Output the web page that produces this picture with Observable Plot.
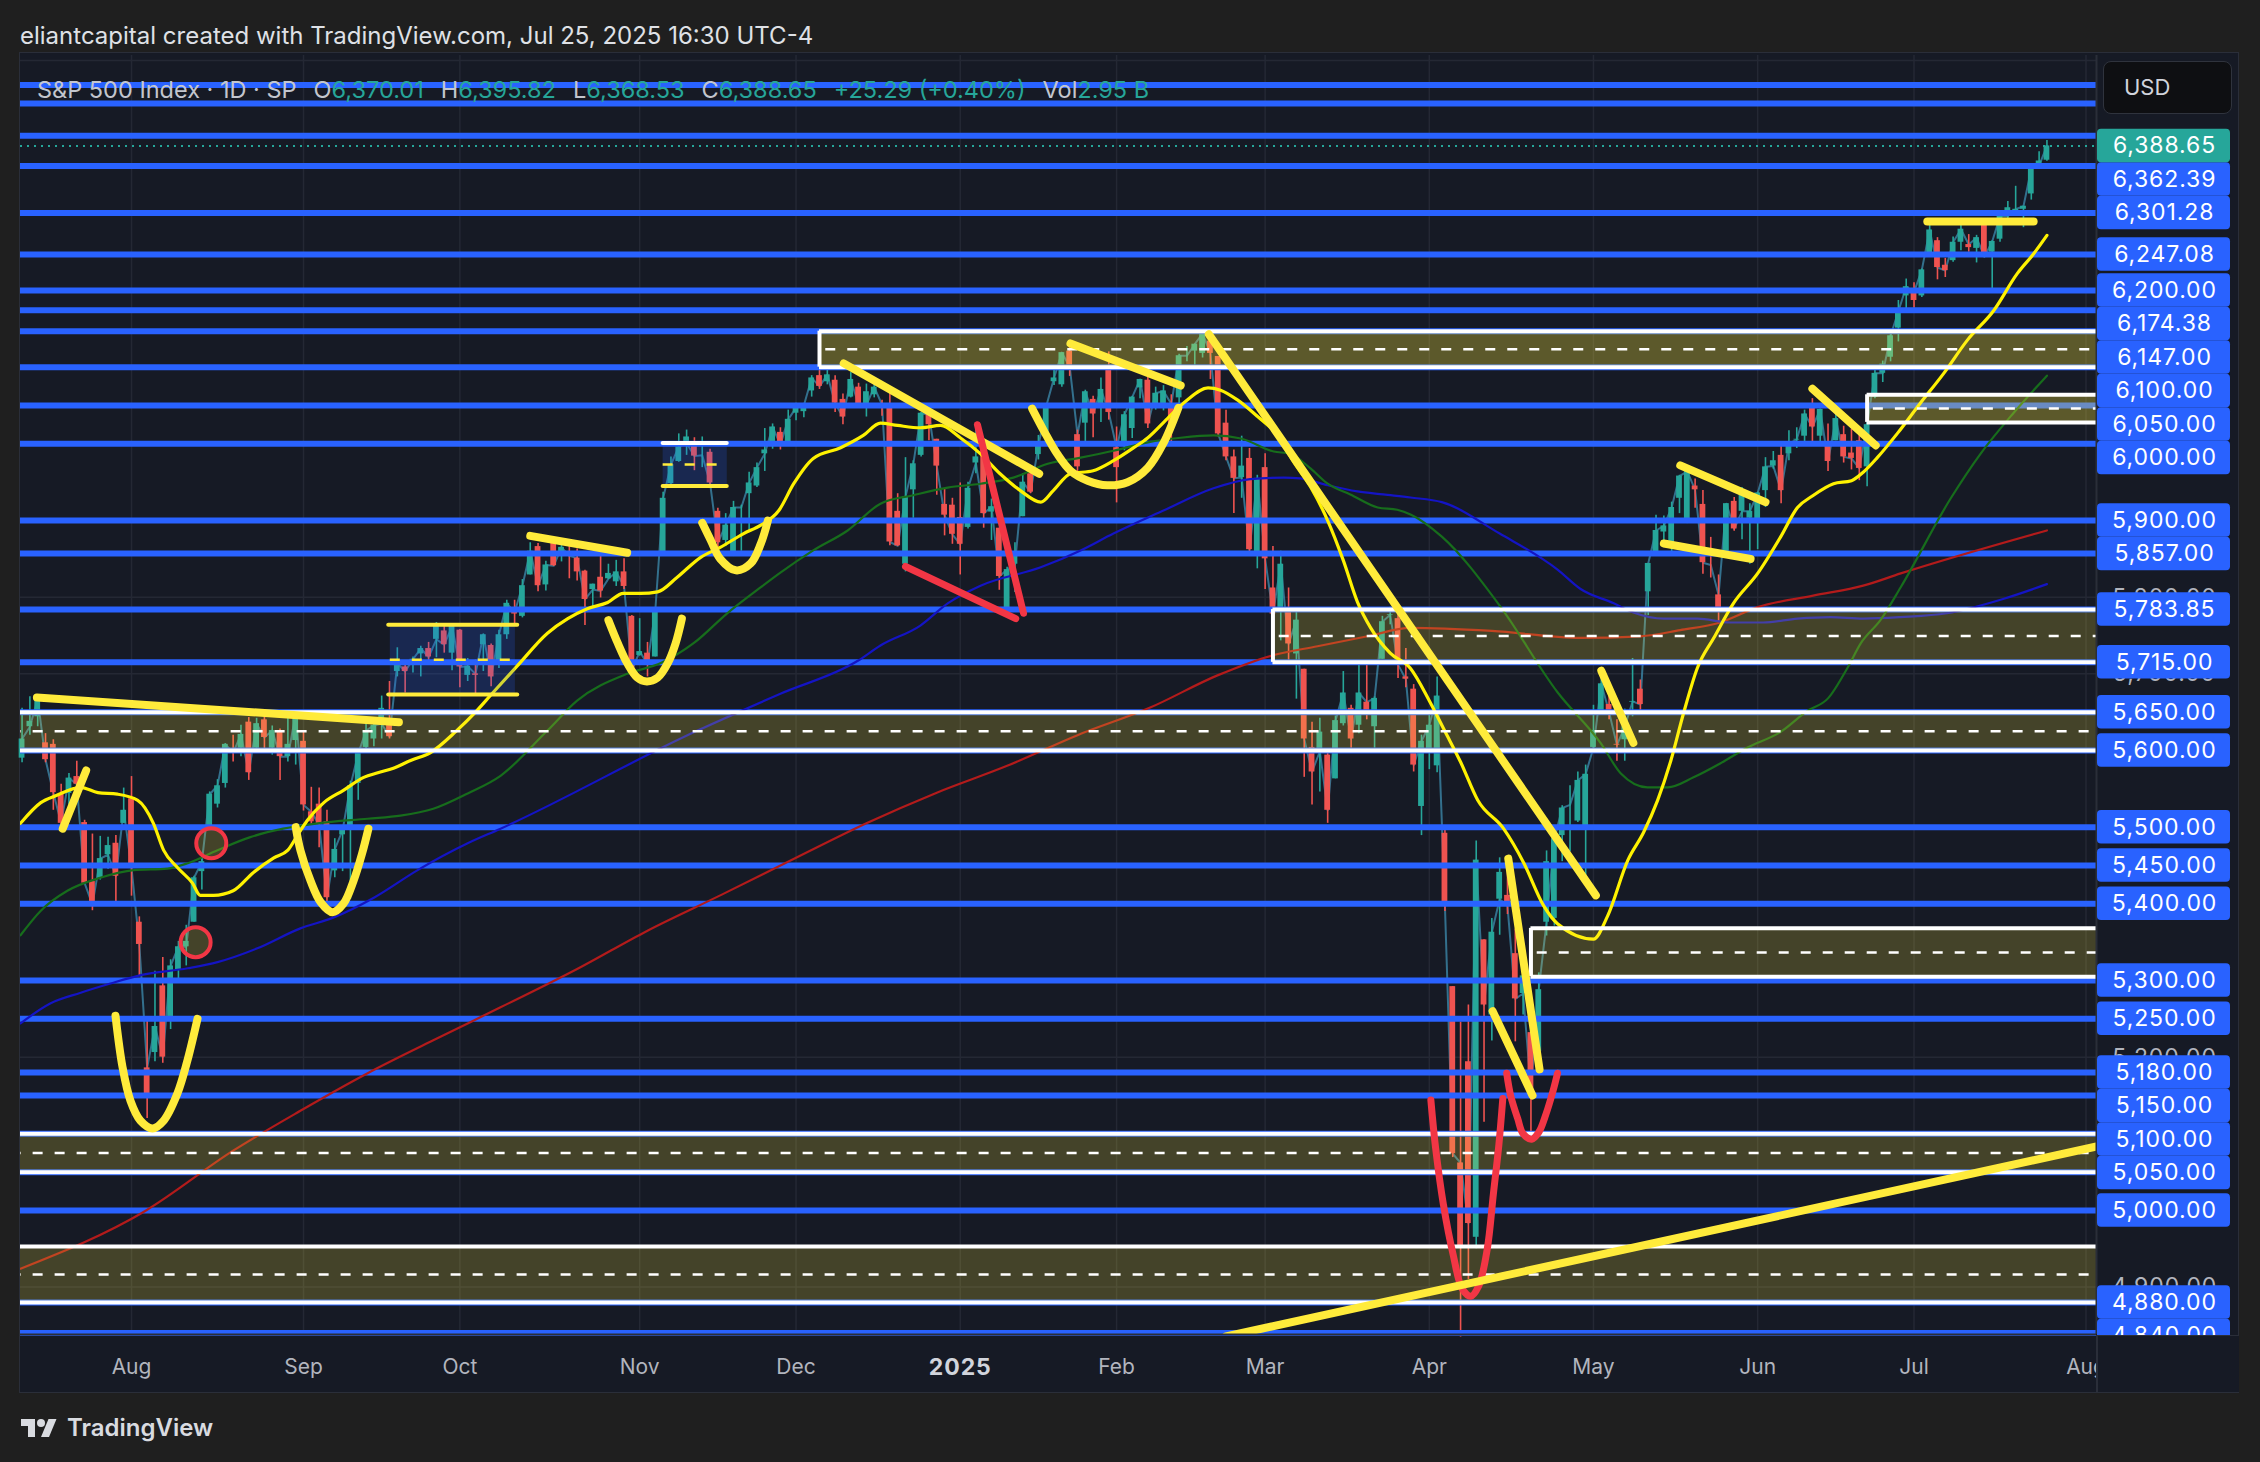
<!DOCTYPE html>
<html><head><meta charset="utf-8">
<script src="https://cdn.jsdelivr.net/npm/d3@7"></script>
<script src="https://cdn.jsdelivr.net/npm/@observablehq/plot@0.6"></script>
<style>
body{margin:0;background:#1f1f1f;width:2260px;height:1462px;overflow:hidden;position:relative;font-family:Inter,"Noto Sans",sans-serif}
#hdr{position:absolute;left:20px;top:24px;font-size:24px;line-height:24px;color:#dfe1e6;white-space:nowrap}
#panel{position:absolute;left:19px;top:52px;width:2218px;height:1339px;border:1px solid #2a2e39;background:#161a25}
#legend{position:absolute;left:37px;top:78px;font-size:23.5px;line-height:24px;white-space:nowrap;color:#c3c6ce}
#legend .v{color:#26a69a}
#legend .s{margin-left:17px}
#usd{position:absolute;left:2103px;top:61px;width:127px;height:51px;background:#0e0f12;border:1px solid #2f333d;border-radius:8px;color:#d1d4dc;font-size:22px;line-height:51px}
#usd span{margin-left:20px}
#corner{position:absolute;left:2096px;top:1335px;width:141px;height:56px;background:#161a25;border-left:2px solid #2a2e39;border-top:1px solid #2a2e39}
#footer{position:absolute;left:20px;top:1411px;height:32px;display:flex;align-items:center;color:#d9dbe0;font-size:24px;font-weight:600}
#footer svg{margin-right:9px}
</style></head><body>
<div id="hdr">eliantcapital created with TradingView.com, Jul 25, 2025 16:30 UTC-4</div>
<div id="panel"></div>
<div id="legend"></div>
<div id="usd"><span>USD</span></div>
<div id="corner"></div>
<div id="footer"><svg width="38" height="24" viewBox="0 0 36 24"><path d="M14 22H7V11H0V4h14v18z" fill="#d9dbe0"/><circle cx="20" cy="8" r="4" fill="#d9dbe0"/><path d="M28 22h-8l7.5-18h8L28 22z" fill="#d9dbe0"/></svg>TradingView</div>
<script>
// ---------------- DATA ----------------
const dates = [
"2024-07-12","2024-07-15","2024-07-16","2024-07-17","2024-07-18","2024-07-19","2024-07-22","2024-07-23","2024-07-24","2024-07-25","2024-07-26","2024-07-29","2024-07-30","2024-07-31",
"2024-08-01","2024-08-02","2024-08-05","2024-08-06","2024-08-07","2024-08-08","2024-08-09","2024-08-12","2024-08-13","2024-08-14","2024-08-15","2024-08-16","2024-08-19","2024-08-20","2024-08-21","2024-08-22","2024-08-23","2024-08-26","2024-08-27","2024-08-28","2024-08-29","2024-08-30",
"2024-09-03","2024-09-04","2024-09-05","2024-09-06","2024-09-09","2024-09-10","2024-09-11","2024-09-12","2024-09-13","2024-09-16","2024-09-17","2024-09-18","2024-09-19","2024-09-20","2024-09-23","2024-09-24","2024-09-25","2024-09-26","2024-09-27","2024-09-30",
"2024-10-01","2024-10-02","2024-10-03","2024-10-04","2024-10-07","2024-10-08","2024-10-09","2024-10-10","2024-10-11","2024-10-14","2024-10-15","2024-10-16","2024-10-17","2024-10-18","2024-10-21","2024-10-22","2024-10-23","2024-10-24","2024-10-25","2024-10-28","2024-10-29","2024-10-30","2024-10-31",
"2024-11-01","2024-11-04","2024-11-05","2024-11-06","2024-11-07","2024-11-08","2024-11-11","2024-11-12","2024-11-13","2024-11-14","2024-11-15","2024-11-18","2024-11-19","2024-11-20","2024-11-21","2024-11-22","2024-11-25","2024-11-26","2024-11-27","2024-11-29",
"2024-12-02","2024-12-03","2024-12-04","2024-12-05","2024-12-06","2024-12-09","2024-12-10","2024-12-11","2024-12-12","2024-12-13","2024-12-16","2024-12-17","2024-12-18","2024-12-19","2024-12-20","2024-12-23","2024-12-24","2024-12-26","2024-12-27","2024-12-30","2024-12-31",
"2025-01-02","2025-01-03","2025-01-06","2025-01-07","2025-01-08","2025-01-10","2025-01-13","2025-01-14","2025-01-15","2025-01-16","2025-01-17","2025-01-21","2025-01-22","2025-01-23","2025-01-24","2025-01-27","2025-01-28","2025-01-29","2025-01-30","2025-01-31",
"2025-02-03","2025-02-04","2025-02-05","2025-02-06","2025-02-07","2025-02-10","2025-02-11","2025-02-12","2025-02-13","2025-02-14","2025-02-18","2025-02-19","2025-02-20","2025-02-21","2025-02-24","2025-02-25","2025-02-26","2025-02-27","2025-02-28",
"2025-03-03","2025-03-04","2025-03-05","2025-03-06","2025-03-07","2025-03-10","2025-03-11","2025-03-12","2025-03-13","2025-03-14","2025-03-17","2025-03-18","2025-03-19","2025-03-20","2025-03-21","2025-03-24","2025-03-25","2025-03-26","2025-03-27","2025-03-28","2025-03-31",
"2025-04-01","2025-04-02","2025-04-03","2025-04-04","2025-04-07","2025-04-08","2025-04-09","2025-04-10","2025-04-11","2025-04-14","2025-04-15","2025-04-16","2025-04-17","2025-04-21","2025-04-22","2025-04-23","2025-04-24","2025-04-25","2025-04-28","2025-04-29","2025-04-30",
"2025-05-01","2025-05-02","2025-05-05","2025-05-06","2025-05-07","2025-05-08","2025-05-09","2025-05-12","2025-05-13","2025-05-14","2025-05-15","2025-05-16","2025-05-19","2025-05-20","2025-05-21","2025-05-22","2025-05-23","2025-05-27","2025-05-28","2025-05-29","2025-05-30",
"2025-06-02","2025-06-03","2025-06-04","2025-06-05","2025-06-06","2025-06-09","2025-06-10","2025-06-11","2025-06-12","2025-06-13","2025-06-16","2025-06-17","2025-06-18","2025-06-20","2025-06-23","2025-06-24","2025-06-25","2025-06-26","2025-06-27","2025-06-30",
"2025-07-01","2025-07-02","2025-07-03","2025-07-07","2025-07-08","2025-07-09","2025-07-10","2025-07-11","2025-07-14","2025-07-15","2025-07-16","2025-07-17","2025-07-18","2025-07-21","2025-07-22","2025-07-23","2025-07-24","2025-07-25"];
const futureDates = ["2025-07-28","2025-07-29","2025-07-30","2025-07-31","2025-08-01"];
const closeBefore = 5584.54;
const open = [
5590,5638,5644,5610,5608,5544,5544,5566,5506,5429,5433,5476,5479,5505,
5537,5376,5151,5206,5293,5253,5314,5351,5376,5442,5501,5530,5557,5602,5603,5637,5603,5640,5603,5625,5608,5613,
5612,5507,5530,5507,5443,5490,5496,5557,5604,5615,5655,5641,5703,5709,5712,5726,5733,5762,5756,5727,
5757,5698,5698,5738,5737,5714,5751,5778,5775,5829,5866,5816,5875,5859,5858,5833,5834,5817,5826,5831,5820,5833,5775,
5724,5727,5722,5857,5948,5977,6009,6003,5985,5989,5912,5874,5857,5917,5935,5945,5992,6001,6015,6003,
6040,6042,6069,6089,6081,6083,6058,6061,6074,6068,6064,6052,6047,5912,5843,5940,5985,6025,6006,5921,5920,
5904,5891,5983,5994,5911,5890,5782,5859,5905,5961,5986,6014,6081,6077,6121,5970,6027,6058,6052,6097,
5969,5998,6020,6073,6083,6047,6050,6026,6060,6115,6121,6118,6134,6114,6027,5983,5971,5981,5856,
5969,5812,5782,5786,5726,5706,5604,5624,5594,5563,5635,5655,5633,5646,5631,5719,5776,5772,5696,5680,5527,
5597,5580,5492,5292,4953,5194,4965,5353,5255,5441,5411,5335,5306,5232,5207,5455,5381,5489,5529,5508,5499,
5626,5646,5660,5608,5614,5663,5680,5807,5854,5885,5869,5929,5902,5945,5921,5842,5781,5855,5925,5939,5903,
5896,5939,5978,5985,5987,6005,6010,6050,6010,5997,6004,6012,5988,6004,5970,6061,6104,6113,6151,6193,
6187,6193,6246,6265,6233,6239,6263,6256,6255,6291,6250,6267,6308,6304,6306,6326,6369,6370.01];
const high = [
5655,5670,5667,5622,5614,5556,5570,5586,5509,5491,5488,5487,5489,5551,
5566,5383,5250,5312,5330,5327,5351,5372,5436,5463,5546,5562,5609,5620,5633,5643,5642,5651,5632,5628,5647,5651,
5624,5552,5551,5522,5485,5497,5560,5600,5636,5637,5671,5690,5734,5716,5722,5736,5741,5767,5764,5765,
5758,5720,5718,5752,5739,5757,5796,5796,5823,5871,5870,5847,5878,5872,5867,5863,5835,5817,5862,5843,5848,5850,5776,
5772,5741,5784,5937,5983,6013,6018,6008,6009,5993,5916,5909,5925,5920,5963,5975,6020,6026,6021,6044,
6053,6052,6089,6099,6100,6089,6065,6093,6079,6078,6085,6057,6070,5935,5982,5978,6041,6050,6006,5941,5929,
5949,5950,6021,6001,5928,5890,5839,5871,5961,5964,6011,6051,6100,6119,6128,6018,6070,6062,6086,6120,
6022,6042,6062,6084,6101,6074,6076,6064,6117,6127,6130,6147,6134,6114,6044,5992,6010,5994,5959,
5987,5866,5860,5812,5783,5706,5637,5642,5598,5645,5703,5659,5716,5711,5670,5775,5787,5786,5733,5686,5620,
5651,5696,5500,5292,5246,5268,5482,5353,5381,5460,5450,5367,5328,5232,5310,5469,5489,5528,5554,5572,5581,
5659,5700,5684,5640,5654,5720,5692,5844,5907,5906,5924,5959,5969,5954,5939,5878,5829,5922,5930,5943,5922,
5937,5982,5990,5999,6017,6021,6044,6059,6045,6026,6051,6023,6019,6018,6028,6101,6108,6146,6187,6215,
6210,6228,6285,6269,6242,6270,6290,6273,6272,6292,6265,6299,6316,6336,6310,6359,6381,6395.82];
const low = [
5584,5620,5631,5584,5522,5497,5529,5551,5427,5391,5431,5445,5398,5505,
5410,5305,5120,5194,5192,5236,5300,5319,5376,5418,5501,5525,5551,5585,5592,5561,5597,5602,5594,5561,5585,5581,
5521,5503,5473,5403,5434,5442,5406,5535,5601,5605,5615,5615,5696,5675,5701,5696,5712,5721,5727,5704,
5682,5690,5674,5703,5683,5707,5745,5763,5773,5829,5807,5808,5840,5846,5824,5821,5763,5784,5799,5823,5814,5810,5704,
5723,5696,5722,5857,5947,5976,5985,5965,5969,5943,5854,5866,5853,5860,5885,5943,5964,5993,5992,6003,
6030,6034,6061,6071,6077,6041,6025,6060,6050,6035,6060,6036,5867,5866,5833,5903,5983,6004,5933,5880,5869,
5829,5889,5961,5890,5874,5809,5774,5806,5905,5935,5979,6006,6076,6074,6088,5962,5998,6008,6028,6031,
5923,5991,6007,6059,6020,6044,6043,6003,6052,6107,6100,6112,6084,6009,5978,5909,5929,5858,5837,
5810,5733,5743,5711,5667,5565,5529,5546,5505,5563,5632,5603,5622,5640,5603,5719,5764,5694,5682,5572,5489,
5575,5571,5390,5069,4835,4910,4950,5115,5221,5359,5386,5220,5255,5101,5207,5358,5371,5455,5468,5506,5434,
5598,5646,5640,5586,5586,5644,5647,5776,5854,5868,5856,5909,5896,5916,5830,5825,5767,5855,5886,5875,5843,
5862,5917,5967,5922,5978,5994,6000,6003,6003,5964,6004,5975,5966,5952,5944,6059,6080,6107,6133,6175,
6177,6191,6244,6214,6217,6237,6252,6250,6236,6243,6201,6263,6286,6304,6282,6318,6361,6368.53];
const close = [
5615,5631,5667,5588,5545,5505,5564,5556,5427,5399,5459,5464,5436,5522,
5447,5347,5186,5240,5200,5319,5344,5344,5434,5455,5543,5554,5608,5597,5621,5571,5635,5617,5626,5592,5592,5648,
5529,5520,5503,5408,5471,5496,5554,5596,5626,5633,5635,5618,5714,5703,5719,5733,5722,5745,5738,5762,
5709,5710,5700,5751,5696,5751,5792,5780,5815,5860,5815,5842,5841,5865,5854,5851,5797,5810,5808,5824,5833,5814,5705,
5729,5713,5783,5929,5973,5996,6001,5984,5985,5949,5871,5894,5917,5917,5949,5969,5987,6022,5999,6032,
6047,6050,6086,6075,6090,6053,6035,6084,6051,6051,6074,6051,5872,5867,5931,5974,6040,6038,5971,5907,5882,
5869,5942,5975,5909,5918,5827,5836,5843,5950,5937,5997,6049,6086,6119,6101,6012,6068,6039,6071,6041,
5995,6038,6061,6084,6026,6066,6069,6052,6115,6115,6130,6144,6118,6013,5983,5955,5956,5862,5955,
5850,5778,5843,5739,5770,5615,5572,5599,5522,5639,5675,5615,5675,5663,5668,5768,5777,5712,5693,5581,5612,
5633,5671,5397,5074,5062,4983,5457,5268,5363,5406,5397,5276,5283,5158,5288,5376,5485,5525,5529,5561,5569,
5604,5687,5650,5607,5631,5664,5660,5844,5887,5893,5917,5958,5964,5940,5845,5842,5803,5922,5889,5912,5912,
5936,5970,5971,5939,6000,6006,6039,6022,6045,5977,6033,5983,5981,5968,6025,6092,6092,6141,6173,6205,
6198,6227,6279,6230,6226,6263,6280,6260,6269,6244,6264,6297,6297,6306,6310,6359,6363,6388.65];
const lastPrice = 6388.65;
const monthLabels = ["Aug","Sep","Oct","Nov","Dec","2025","Feb","Mar","Apr","May","Jun","Jul","Aug"];
const legendParts = [["S&P 500 Index · 1D · SP",""],["O","6,370.01"],["H","6,395.82"],["L","6,368.53"],["C","6,388.65"],["","+25.29 (+0.40%)"],["Vol","2.95 B"]];

// moving averages: [bar index from 2024-08-01, price]
const ma20 = [[-14.2,5505],[-11.6,5532],[-9.7,5541],[-6.5,5552],[-4.3,5545],[-1.8,5543],[0.8,5535],[2.8,5505],[4.1,5470],[5.9,5447],[7.8,5427],[8.8,5411],[10.5,5411],[13,5417],[15.6,5441],[18.2,5460],[20,5470],[21.2,5489],[22.5,5509],[24.6,5532],[27.1,5548],[29.7,5565],[31.5,5571],[33.5,5577],[35.7,5587],[38.2,5597],[41.5,5625],[44,5650],[46.1,5674],[49.4,5711],[53.2,5753],[55.8,5772],[58.3,5785],[60.9,5793],[62.9,5805],[65.1,5805],[67.3,5807],[69.8,5826],[72.8,5852],[75.3,5865],[78.3,5883],[80.5,5894],[82.8,5913],[84.7,5948],[87.2,5981],[90.7,5995],[93.6,6011],[95.8,6027],[98,6024],[100.9,6021],[103.5,6024],[106,6008],[108.6,5987],[111.1,5961],[113.7,5939],[116.3,5924],[117.9,5939],[120.1,5961],[123,5965],[125.6,5978],[128.2,5995],[130,6008],[132.5,6033],[135,6057],[137.7,6073],[139.3,6070],[141.5,6057],[144,6036],[146.6,6011],[148.6,5977],[150.8,5944],[153,5900],[155,5848],[156.8,5794],[158.5,5760],[161,5727],[163.6,5707],[166,5665],[168,5625],[170,5585],[172.2,5535],[175.5,5498],[178.1,5453],[180.6,5398],[182.4,5374],[187,5354],[188.8,5384],[191.4,5457],[193.4,5493],[195.2,5535],[196.9,5587],[198.5,5648],[200.3,5708],[202.4,5747],[204.9,5792],[208,5831],[210.9,5878],[213.1,5917],[215,5932],[217.7,5948],[220,5952],[221.5,5963],[223.3,5982],[225.9,6014],[228.8,6053],[231.8,6092],[234.8,6135],[238.2,6174],[241.2,6222],[243.3,6248],[245,6272]];
const ma50 = [[-14.2,5359],[-11.6,5391],[-8.2,5417],[-4,5434],[0.3,5444],[4.6,5446],[7.2,5453],[11,5470],[15.2,5487],[19.4,5498],[23.8,5505],[30.2,5511],[34.4,5515],[38.6,5524],[43,5544],[47.2,5567],[53.2,5626],[57,5665],[63.4,5700],[67.7,5714],[71.9,5740],[76.2,5779],[80.5,5813],[83,5832],[87.2,5861],[91.6,5887],[95.8,5922],[100,5933],[104.4,5943],[108.6,5948],[112.8,5956],[117.2,5974],[121.4,5982],[125.6,5991],[130,6002],[134.2,6008],[138.4,6011],[141.9,6007],[146.1,5990],[148.2,5987],[150.8,5968],[153,5948],[155.9,5934],[159.4,5917],[161.9,5914],[163.6,5908],[167.6,5879],[175,5789],[182.4,5676],[187.9,5610],[190.5,5570],[193.9,5552],[196.5,5552],[199.8,5565],[203.2,5583],[206.7,5604],[210.9,5624],[214.4,5652],[217,5668],[219.5,5708],[221.2,5740],[223.7,5770],[226.3,5813],[232.7,5929],[236.5,5987],[240.7,6040],[245,6089]];
const ma100 = [[-14.2,5244],[-10.4,5270],[-6.5,5284],[-2.7,5296],[1.2,5307],[7.2,5316],[11,5324],[16.1,5342],[21.6,5368],[25.8,5382],[31,5408],[36.6,5444],[43,5479],[47.2,5498],[72.4,5626],[83,5674],[92.9,5717],[95.8,5737],[100.9,5763],[104.4,5792],[108.6,5815],[116.3,5839],[121.4,5861],[125.6,5883],[132,5913],[138.4,5942],[143.1,5954],[147.4,5956],[149.5,5955],[153,5946],[156.8,5938],[160.1,5934],[163.6,5930],[167.6,5924],[175,5883],[182.4,5836],[185.3,5811],[189.6,5792],[192.1,5780],[196,5772],[200.3,5772],[204.5,5767],[208.7,5767],[213.1,5772],[217.3,5774],[221.5,5772],[226.3,5774],[232.2,5779],[239.5,5798],[245,5817]];
const ma200 = [[-14.2,4924],[1.7,4999],[13,5078],[21.6,5130],[30.2,5179],[38.6,5222],[47.2,5265],[57,5315],[66,5365],[75.5,5412],[85,5460],[94,5505],[103,5545],[112,5580],[121,5620],[130.3,5656],[138.9,5698],[145.9,5724],[151.7,5736],[158.1,5749],[163.6,5760],[174,5756],[185.3,5747],[193,5749],[198.1,5757],[203.2,5767],[208,5787],[215.1,5802],[221.5,5815],[226.3,5831],[245,5887]];

// horizontal levels (blue)
const levels = [6468,6444,6402,6362.39,6301.28,6247.08,6200,6174.38,6147,6100,6050,6000,5900,5857,5783.85,5715,5650,5600,5500,5450,5400,5300,5250,5180,5150,5100,5050,5000,4880,4840];
// zones
const zoneTop    = [6147, 6064, 5783.85, 5650, 5368, 5100, 4953];
const zoneBottom = [6100, 6028, 5715,    5600, 5305, 5050, 4880];
const zoneStart  = ["2024-12-05","2025-06-23","2025-03-04",null,"2025-04-21",null,null];
const zoneStrong = [true, true, false, false, false, false, false];
// blue rectangles [x1, x2, bottom, top]
const blueRects = [[33.1,49.1,5673,5764],[68,76.2,5945,6001]];
// trend lines [x1,p1,x2,p2]
const yellowLines = [[-12.1,5669,34.2,5637],[-8.8,5498,-5.8,5574],[51,5880,63.4,5858],[91.1,6105,116.1,5961],[120.1,6131,134.2,6076],[137.8,6143,187.3,5411],[188,5704,192.1,5610],[176.1,5459,180.1,5184],[174.1,5260,179.2,5150],[140,4835.6,251.34,5083.5],[198.1,5972,209,5924],[196,5870,207.1,5850],[215,6072,223.1,5998],[229.7,6290,243.3,6290]];
const redLines = [[99,5840,113.1,5772],[108.2,6025,114.1,5779]];
const rectYellowEdges = [[32.9,49.4,5764],[32.9,49.4,5673],[68,76.2,5945]];
const rectWhiteEdges = [[68,76.2,6001]];
const yellowCurves = [
 [[-2.05,5254],[-1.15,5187],[-0.13,5143],[1.15,5117],[2.69,5107],[4.09,5117],[5.88,5153],[7.16,5196],[8.44,5250]],
 [[21,5500],[21.6,5470],[22.9,5430],[24.2,5402],[25.7,5389],[27.1,5400],[28.4,5430],[29.5,5466],[30.3,5498]],
 [[61,5770],[62.2,5740],[63.4,5714],[64.7,5695],[65.9,5690],[67.3,5695],[68.6,5714],[69.6,5740],[70.4,5772]],
 [[73,5897],[74.1,5874],[75.3,5850],[77.3,5835],[79.2,5844],[80.5,5870],[81.4,5900]],
 [[115.2,6046],[116.7,6017],[118.4,5987],[120.1,5965],[122.3,5952],[124.8,5946],[127.4,5950],[130,5969],[132,6001],[133.9,6047]]];
const redCurves = [
 [[166.2,5144],[166.8,5082],[167.8,5008],[169.1,4940],[170.2,4898],[171.3,4888],[172.3,4901],[173.4,4949],[174.2,5022],[174.9,5086],[175.4,5146]],
 [[175.9,5179],[176.4,5150],[177.3,5120],[178,5100],[179.1,5093],[180,5102],[180.9,5125],[181.8,5155],[182.4,5179]]];
const redCircles = [[10.2,5479],[8.2,5350]];

// ---------------- LAYOUT ----------------
const W = 2218, H = 1339, MT = 2, MB = 58, ML = 0, MR = 142;
const XMIN = -14.2, XMAX = 251.34, YMIN = 4838.2, YMAX = 6506.6;
const pxPerBar = (W - ML - MR) / (XMAX - XMIN);
const pxPerPt = (H - MT - MB) / (YMAX - YMIN);
const yPix = p => (H - MB) - (p - YMIN) * pxPerPt;
const pFromPix = y => YMIN + ((H - MB) - y) / pxPerPt;
const LH = 33.5;
const UP = "#26a69a", DN = "#ef5350", BLUE = "#2962ff", YEL = "#ffeb3b", RED = "#f23645";
const FONT = "Inter, 'Noto Sans', sans-serif";
const LABEL_FS = 23, LABEL_LS = "0.9px";

const off = dates.indexOf("2024-08-01");
const idxOf = d => dates.indexOf(d) - off;
const bars = dates.map((d, k) => ({i: k - off, o: open[k], h: high[k], l: low[k], c: close[k],
  col: close[k] >= (k ? close[k - 1] : closeBefore) ? UP : DN}));

const allDates = dates.concat(futureDates);
const tickIdx = [];
allDates.forEach((d, k) => { if (k > 0 && d.slice(0, 7) !== allDates[k - 1].slice(0, 7)) tickIdx.push(k - off); });
const ticks = tickIdx.map((i, j) => ({i, label: monthLabels[j]}));

const zones = zoneTop.map((t, k) => ({top: t, bottom: zoneBottom[k], s: zoneStart[k] ? idxOf(zoneStart[k]) : null, strong: zoneStrong[k]}))
  .map(z => ({...z, x1: z.s === null ? XMIN - 2 : z.s}));

// price labels (stacked like the price scale does)
const below = levels.filter(p => p < lastPrice).sort((a, b) => b - a);
let prev = yPix(lastPrice);
const labelPix = below.map(p => { const c = Math.max(yPix(p), prev + LH); prev = c; return {p, cp: c}; });
const labels = labelPix.map(d => ({p: d.p, c: pFromPix(d.cp)}));
const halfP = (LH / 2) / pxPerPt;
const fmt = d3.format(",.2f");
// union of the label boxes (pixels), to keep only the regular scale ticks that peek out
const boxes = [{t: yPix(lastPrice) - LH / 2, b: yPix(lastPrice) + LH / 2}].concat(labelPix.map(d => ({t: d.cp - LH / 2, b: d.cp + LH / 2}))).sort((a, b) => a.t - b.t);
const merged = [];
boxes.forEach(bx => { const m = merged[merged.length - 1]; if (m && bx.t <= m.b + 0.6) m.b = Math.max(m.b, bx.b); else merged.push({...bx}); });
const gridPrices = d3.range(4900, 6501, 100);
const scaleTicks = gridPrices.filter(p => p < lastPrice).filter(p => {
  const y = yPix(p); return !merged.some(m => m.t <= y - 8 && m.b >= y + 8);
});
const lx1 = XMAX + 1 / pxPerBar, lx2 = XMAX + 134 / pxPerBar, lxc = XMAX + 68 / pxPerBar;

const curvePts = (arr, tag) => arr.flatMap((pts, k) => pts.map(([x, y]) => ({id: tag + k, x, y})));
const maLine = (arr, color, w) => Plot.line(arr, {x: d => d[0], y: d => d[1], stroke: color, strokeWidth: w, curve: "monotone-x", clip: true});
const labelText = (data, opts) => Plot.text(data, {x: () => lxc, fontSize: LABEL_FS, textAnchor: "middle", ...opts});

const chart = Plot.plot({
  width: W, height: H, marginTop: MT, marginBottom: MB, marginLeft: ML, marginRight: MR,
  x: {domain: [XMIN, XMAX], axis: null},
  y: {domain: [YMIN, YMAX], axis: null},
  color: {type: "identity"},
  style: {background: "transparent", fontFamily: FONT, overflow: "visible"},
  marks: [
    // grid
    Plot.ruleX(ticks, {x: "i", stroke: "#242834", strokeWidth: 1.5}),
    Plot.ruleY(gridPrices, {stroke: "#242834", strokeWidth: 1.5}),
    // close line + candles
    Plot.line(bars, {x: "i", y: "c", stroke: "#3b86a8", strokeWidth: 2, strokeOpacity: 0.8}),
    Plot.ruleX(bars, {x: "i", y1: "l", y2: "h", stroke: "col", strokeWidth: 1.6}),
    Plot.rect(bars, {x1: d => d.i - 0.37, x2: d => d.i + 0.37, y1: "o", y2: "c", fill: "col"}),
    // blue levels
    Plot.ruleY(levels, {stroke: BLUE, strokeWidth: 6}),
    // moving averages
    maLine(ma200, "#b31b1b", 2.2),
    maLine(ma100, "#1414c4", 2.2),
    maLine(ma50, "#176d1c", 2.2),
    maLine(ma20, "#fff200", 3.2),
    // zones
    Plot.rect(zones.filter(z => z.strong), {x1: "x1", x2: () => XMAX, y1: "bottom", y2: "top", fill: YEL, fillOpacity: 0.3, clip: true}),
    Plot.rect(zones.filter(z => !z.strong), {x1: "x1", x2: () => XMAX, y1: "bottom", y2: "top", fill: YEL, fillOpacity: 0.2, clip: true}),
    Plot.rect(blueRects, {x1: d => d[0], x2: d => d[1], y1: d => d[2], y2: d => d[3], fill: BLUE, fillOpacity: 0.2}),
    Plot.ruleY(zones, {y: "top", x1: "x1", x2: () => XMAX, stroke: "white", strokeWidth: 4, clip: true}),
    Plot.ruleY(zones, {y: "bottom", x1: "x1", x2: () => XMAX, stroke: "white", strokeWidth: 4, clip: true}),
    Plot.ruleX(zones.filter(z => z.s !== null), {x: "s", y1: "bottom", y2: "top", stroke: "white", strokeWidth: 4}),
    Plot.ruleY(zones, {y: d => (d.top + d.bottom) / 2, x1: d => d.x1 + 0.8, x2: () => XMAX, stroke: "white", strokeWidth: 2.5, strokeDasharray: "10,12", clip: true}),
    Plot.ruleY(blueRects, {y: d => (d[2] + d[3]) / 2, x1: d => d[0], x2: d => d[1], stroke: YEL, strokeWidth: 2.5, strokeDasharray: "10,12"}),
    // last price dotted line
    Plot.ruleY([lastPrice], {stroke: UP, strokeWidth: 2, strokeDasharray: "2,5"}),
    // drawings
    Plot.ruleY(rectYellowEdges, {y: d => d[2], x1: d => d[0], x2: d => d[1], stroke: YEL, strokeWidth: 4, strokeLinecap: "round"}),
    Plot.ruleY(rectWhiteEdges, {y: d => d[2], x1: d => d[0], x2: d => d[1], stroke: "white", strokeWidth: 4, strokeLinecap: "round"}),
    Plot.line(curvePts(yellowCurves, "y"), {x: "x", y: "y", z: "id", curve: "catmull-rom", stroke: YEL, strokeWidth: 8, strokeLinecap: "round"}),
    Plot.line(curvePts(redCurves, "r"), {x: "x", y: "y", z: "id", curve: "catmull-rom", stroke: RED, strokeWidth: 7, strokeLinecap: "round"}),
    Plot.link(yellowLines, {x1: d => d[0], y1: d => d[1], x2: d => d[2], y2: d => d[3], stroke: YEL, strokeWidth: 8, strokeLinecap: "round", clip: true}),
    Plot.link(redLines, {x1: d => d[0], y1: d => d[1], x2: d => d[2], y2: d => d[3], stroke: RED, strokeWidth: 7, strokeLinecap: "round"}),
    Plot.dot(redCircles, {x: d => d[0], y: d => d[1], r: 15, stroke: RED, strokeWidth: 4, fill: YEL, fillOpacity: 0.2}),
    // dividers
    Plot.ruleX([XMAX], {stroke: "#2a2e39", strokeWidth: 2}),
    Plot.ruleY([YMIN], {stroke: "#2a2e39", strokeWidth: 2}),
    // time axis
    Plot.text(ticks.filter(d => d.label !== "2025"), {x: "i", text: "label", frameAnchor: "bottom", dy: 33, lineAnchor: "middle", fill: "#b2b5be", fontSize: 21}),
    Plot.text(ticks.filter(d => d.label === "2025"), {x: "i", text: "label", frameAnchor: "bottom", dy: 33, lineAnchor: "middle", fill: "#d1d4dc", fontSize: 23, fontWeight: "bold"}),
    // price scale
    labelText(scaleTicks, {y: d => d, text: d => fmt(d), fill: "#b2b5be"}),
    Plot.rect(labels, {x1: () => lx1, x2: () => lx2, y1: d => d.c - halfP, y2: d => d.c + halfP, fill: BLUE, rx: 4}),
    labelText(labels, {y: "c", text: d => fmt(d.p), fill: "white"}),
    Plot.rect([lastPrice], {x1: () => lx1, x2: () => lx2, y1: d => d - halfP, y2: d => d + halfP, fill: UP, rx: 4}),
    labelText([lastPrice], {y: d => d, text: d => fmt(d), fill: "white"})
  ]
});
chart.querySelectorAll("text").forEach(t => { if (+t.getAttribute("font-size") === LABEL_FS || t.closest("g[font-size='23']")) t.style.letterSpacing = LABEL_LS; });
chart.querySelectorAll("g[aria-label='text']").forEach(g => { if (g.getAttribute("font-size") == LABEL_FS && g.getAttribute("text-anchor") === "middle" && !g.getAttribute("font-weight")) g.style.letterSpacing = LABEL_LS; });
document.getElementById("panel").appendChild(chart);

// legend line
const lg = document.getElementById("legend");
legendParts.forEach(([k, v], j) => {
  const s = document.createElement("span");
  if (j > 0) s.className = "s";
  s.innerHTML = (k ? `<span>${k.replace("&", "&amp;")}</span>` : "") + (v ? `<span class="v">${v}</span>` : "");
  lg.appendChild(s);
});
</script>
</body></html>
